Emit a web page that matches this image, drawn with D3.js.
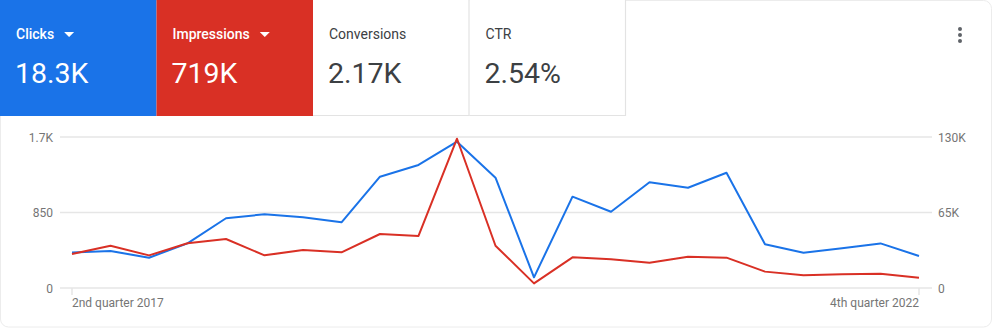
<!DOCTYPE html>
<html>
<head>
<meta charset="utf-8">
<script src="https://cdn.jsdelivr.net/npm/d3@7/dist/d3.min.js"></script>
<style>
  html, body { margin: 0; padding: 0; background: #fff; }
  svg { display: block; font-family: Roboto, "Noto Sans", Arial, sans-serif; }
</style>
</head>
<body>
<svg id="chart" width="992" height="328"></svg>
<script>
// Quarterly performance, 2nd quarter 2017 through 4th quarter 2022
const quarters = [
  "2017 Q2","2017 Q3","2017 Q4",
  "2018 Q1","2018 Q2","2018 Q3","2018 Q4",
  "2019 Q1","2019 Q2","2019 Q3","2019 Q4",
  "2020 Q1","2020 Q2","2020 Q3","2020 Q4",
  "2021 Q1","2021 Q2","2021 Q3","2021 Q4",
  "2022 Q1","2022 Q2","2022 Q3","2022 Q4"
];
const clicks = [401, 416, 341, 503, 785, 830, 796, 740, 1253, 1385, 1647, 1242,
                120, 1028, 859, 1190, 1129, 1298, 492, 398, 447, 502, 360];
const impressions = [29300, 36400, 28100, 38500, 42200, 28100, 32700, 30700, 46500, 44800, 128500, 36400,
                     4000, 26400, 24700, 21800, 27000, 26100, 14100, 10900, 11800, 12300, 8900];

const leftTicks = [0, 850, 1700];
const leftTickLabels = ["0", "850", "1.7K"];
const rightTicks = [0, 65000, 130000];
const rightTickLabels = ["0", "65K", "130K"];
const xLabelFirst = "2nd quarter 2017";
const xLabelLast = "4th quarter 2022";

const cards = [
  { label: "Clicks", value: "18.3K", fill: "#1a73e8", text: "#fff", dropdown: true },
  { label: "Impressions", value: "719K", fill: "#d93025", text: "#fff", dropdown: true },
  { label: "Conversions", value: "2.17K", fill: "#fff", text: "#3c4043", dropdown: false },
  { label: "CTR", value: "2.54%", fill: "#fff", text: "#3c4043", dropdown: false }
];

const BLUE = "#1a73e8", RED = "#d93025";
const svg = d3.select("#chart");

// outer card frame
svg.append("rect")
  .attr("x", 0.5).attr("y", 0.5).attr("width", 991).attr("height", 326.5)
  .attr("rx", 8).attr("fill", "#fff").attr("stroke", "#ececec");

// metric tiles
const cardW = 156.5, cardH = 116;
const tiles = svg.append("g").selectAll("g").data(cards).join("g")
  .attr("transform", (d, i) => `translate(${i * cardW},0)`);

tiles.append("rect")
  .attr("width", cardW).attr("height", cardH)
  .attr("fill", d => d.fill);

// borders around the white tiles
const whiteIdx = cards.map((d, i) => d.fill === "#fff" ? i : -1).filter(i => i >= 0);
const borders = svg.append("g").attr("stroke", "#e3e3e3").attr("stroke-width", 1.2).attr("fill", "none");
whiteIdx.forEach(i => {
  const x0 = i * cardW, x1 = (i + 1) * cardW;
  borders.append("line").attr("x1", x0).attr("x2", x1).attr("y1", cardH - 0.5).attr("y2", cardH - 0.5);
  borders.append("line").attr("x1", x1 - 0.5).attr("x2", x1 - 0.5).attr("y1", 0).attr("y2", cardH);
});

tiles.append("text")
  .attr("x", 16).attr("y", 39)
  .attr("fill", d => d.text)
  .attr("font-size", 14)
  .attr("font-weight", d => d.dropdown ? 500 : 400)
  .text(d => d.label);

tiles.each(function(d) {
  if (!d.dropdown) return;
  const g = d3.select(this);
  const w = g.select("text").node().getComputedTextLength();
  const x = 16 + w + 10;
  g.append("path")
    .attr("d", `M${x},32 L${x + 10},32 L${x + 5},37 Z`)
    .attr("fill", d.text);
});

tiles.append("text")
  .attr("x", 15).attr("y", 83)
  .attr("fill", d => d.text)
  .attr("font-size", 28.5)
  .text(d => d.value);

// overflow menu
svg.append("g").attr("fill", "#5f6368").selectAll("circle")
  .data([29, 35, 41]).join("circle")
  .attr("cx", 960).attr("cy", d => d).attr("r", 2);

// chart area
const x = d3.scalePoint().domain(quarters).range([72, 919]);
const yL = d3.scaleLinear().domain([0, 1700]).range([288, 137]);
const yR = d3.scaleLinear().domain([0, 130000]).range([288, 137]);

const grid = svg.append("g");
grid.selectAll("line").data(leftTicks).join("line")
  .attr("x1", 60).attr("x2", 932)
  .attr("y1", d => yL(d)).attr("y2", d => yL(d))
  .attr("stroke", "#e6e6e6").attr("stroke-width", 1.5);

// x ticks at first and last quarter
svg.append("g").selectAll("line").data([quarters[0], quarters[quarters.length - 1]]).join("line")
  .attr("x1", d => x(d)).attr("x2", d => x(d))
  .attr("y1", 288).attr("y2", 295)
  .attr("stroke", "#e6e6e6").attr("stroke-width", 1.5);

const axisColor = "#757575";
svg.append("g").selectAll("text").data(leftTicks).join("text")
  .attr("x", 53).attr("y", d => yL(d) + 4.5)
  .attr("text-anchor", "end").attr("fill", axisColor).attr("font-size", 12)
  .text((d, i) => leftTickLabels[i]);

svg.append("g").selectAll("text").data(rightTicks).join("text")
  .attr("x", 938).attr("y", d => yR(d) + 4.5)
  .attr("text-anchor", "start").attr("fill", axisColor).attr("font-size", 12)
  .text((d, i) => rightTickLabels[i]);

svg.append("text")
  .attr("x", x(quarters[0])).attr("y", 307)
  .attr("fill", axisColor).attr("font-size", 12)
  .text(xLabelFirst);
svg.append("text")
  .attr("x", x(quarters[quarters.length - 1])).attr("y", 307)
  .attr("text-anchor", "end")
  .attr("fill", axisColor).attr("font-size", 12)
  .text(xLabelLast);

// series lines
const lineL = d3.line().x((d, i) => x(quarters[i])).y(d => yL(d));
const lineR = d3.line().x((d, i) => x(quarters[i])).y(d => yR(d));

svg.append("path").datum(clicks)
  .attr("d", lineL).attr("fill", "none")
  .attr("stroke", BLUE).attr("stroke-width", 2).attr("stroke-linejoin", "round");
svg.append("path").datum(impressions)
  .attr("d", lineR).attr("fill", "none")
  .attr("stroke", RED).attr("stroke-width", 2).attr("stroke-linejoin", "round");
</script>
</body>
</html>
